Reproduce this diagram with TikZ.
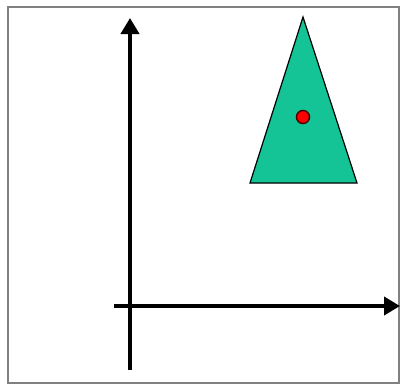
\documentclass[tikz,border=0pt]{standalone}
\usetikzlibrary{arrows.meta}
\definecolor{tealfill}{RGB}{20,196,150}
\definecolor{framegray}{RGB}{128,128,128}
\tikzset{
  axis/.style={line width=4pt,-{Triangle[length=16pt,width=18pt]}},
  frameline/.style={draw=framegray,line width=2pt},
  tri/.style={fill=tealfill,draw=black,line width=1.2pt,line join=miter},
  dot/.style={fill=red,draw=black!70!red,line width=1.5pt}
}
\begin{document}
\begin{tikzpicture}[x=1pt,y=-1pt]
\useasboundingbox (0,0) rectangle (401,386);
\fill[white] (0,0) rectangle (401,386);
\draw[frameline] (8,7) rectangle (399,383);
\coordinate (ytail) at (130,370);
\coordinate (yhead) at (130,18);
\coordinate (xtail) at (114,306);
\coordinate (xhead) at (400,306);
\draw[axis] (ytail) -- (yhead);
\draw[axis] (xtail) -- (xhead);
\coordinate (apex) at (303,17);
\coordinate (bl) at (250,183);
\coordinate (br) at (357,183);
\draw[tri] (apex) -- (bl) -- (br) -- cycle;
\draw[dot] (303,117) circle (6.5);
\end{tikzpicture}
\end{document}
